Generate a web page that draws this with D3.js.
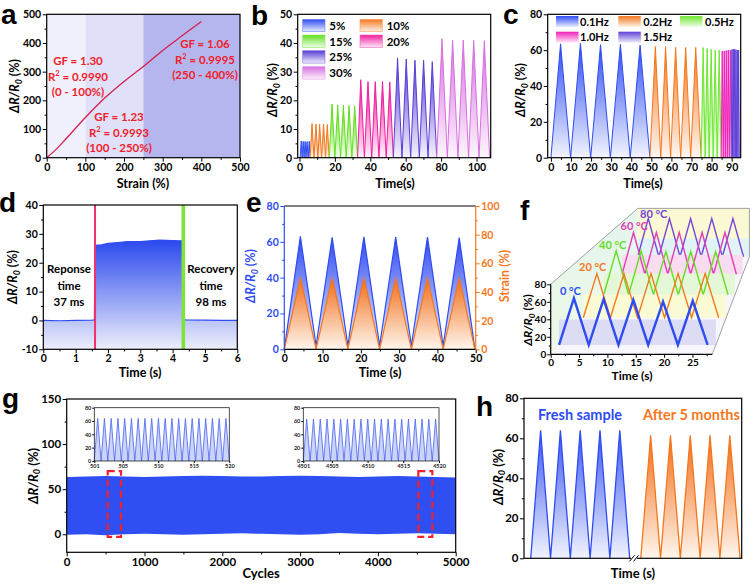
<!DOCTYPE html>
<html lang="en">
<head>
<meta charset="UTF-8">
<title>Strain sensor panels</title>
<script src="https://d3js.org/d3.v7.min.js"></script>
<style>
  body { margin: 0; background: #fff; }
  svg { display: block; }
  text { font-family: Lato, "Open Sans", sans-serif; font-weight: 700; }
</style>
</head>
<body>
<svg width="754" height="585"></svg>
<script>
// ---------------- data ----------------
// a: response vs strain
const aStrain = [0, 25, 50, 100, 150, 200, 250, 300, 350, 400];
const aRes = [0, 30, 66, 140, 208, 266, 318, 374, 425, 475];
const aRanges = [[0, 100], [100, 250], [250, 500]];

// b: different strains
const bLabels = ["5%", "10%", "15%", "20%", "25%", "30%"];
const bTimes = [
  [0.4, 1, 1.5, 2.1, 2.6, 3.2, 3.7, 4.3, 4.9, 5.5, 6.0],
  [6, 7.1, 8.2, 9.3, 10.4, 11.4, 12.5, 13.6, 14.7, 15.7, 16.8],
  [16.8, 18.4, 20, 21.6, 23.2, 24.8, 26.4, 28, 29.6, 31.2, 32.8],
  [32.8, 34.6, 36.7, 38.7, 40.8, 42.8, 44.9, 46.9, 49, 51, 53],
  [53, 55.4, 57.9, 60.3, 62.8, 65.2, 67.7, 70.1, 72.6, 75, 77.5],
  [77.5, 80.5, 83.5, 86.5, 89.5, 92.5, 95.5, 98.4, 101.4, 104.4, 107.4]
];
const bValues = [
  [0, 5.8, 0, 5.7, 0, 5.7, 0, 5.6, 0, 5.7, 0],
  [0, 11.9, 0, 11.7, 0, 11.7, 0, 11.7, 0, 11.6, 0],
  [0, 18.7, 0, 18.4, 0, 18.3, 0, 18.2, 0, 18.1, 0],
  [0, 27.2, 0, 26.5, 0, 26.5, 0, 26.6, 0, 26.4, 0],
  [0, 34.8, 0, 34.4, 0, 34, 0, 34, 0, 33.5, 0],
  [0, 41.5, 0, 41, 0, 41, 0, 40.9, 0, 40.8, 0]
];

// c: different frequencies
const cLabels = ["0.1Hz", "0.2Hz", "0.5Hz", "1.0Hz", "1.5Hz"];
const cTimes = [
  [0, 4.8, 9.8, 14.7, 19.8, 24.7, 29.6, 34.6, 39.5, 44.4, 49.3],
  [49.3, 52, 54.7, 57.1, 59.6, 62.1, 64.6, 67.1, 69.6, 72.1, 74.8],
  [74.8, 75.8, 76.8, 77.8, 78.8, 79.8, 80.8, 81.8, 82.8, 83.8, 84.8],
  [84.8, 85.3, 85.8, 86.3, 86.8, 87.3, 87.8, 88.3, 88.8, 89.3, 89.8],
  [89.8, 90.13, 90.47, 90.8, 91.13, 91.47, 91.8, 92.13, 92.47, 92.8, 93.13, 93.47, 93.8]
];
const cValues = [
  [0, 63.5, 0, 63.8, 0, 63, 0, 63.2, 0, 62.8, 0],
  [0, 62, 0, 62, 0, 61.5, 0, 61.5, 0, 61.5, 0],
  [0, 61.5, 0, 61, 0, 60.5, 0, 60, 0, 60, 0],
  [0, 59.5, 0, 59.5, 0, 59.8, 0, 60, 0, 60, 0],
  [0, 60.3, 0, 60.5, 0, 60.5, 0, 60.3, 0, 60, 0, 60, 0]
];

// d: response / recovery
const dTimes = [0, 0.5, 1, 1.5, 1.58, 1.6, 1.8, 2.0, 2.3, 2.6, 3.0, 3.3, 3.6, 4.0, 4.25, 4.3, 4.34, 4.4, 5, 5.5, 6];
const dValues = [0, -0.1, 0, 0.1, 0.2, 26, 26.2, 26.7, 27, 27.3, 27.3, 27.6, 27.8, 27.7, 27.6, 27.6, 0.4, 0.2, 0.1, 0, 0];
const dMarks = [1.6, 4.33];

// e: response and strain
const eTimes = [0, 4.2, 8.3, 12.5, 16.6, 20.8, 24.9, 29.1, 33.2, 37.4, 41.5, 45.7, 49.8];
const eRes = [0, 63, 2, 62.5, 2, 62.8, 2, 62.7, 2, 62.6, 2, 62.3, 0];
const eStrain = [0, 50, 0, 50, 0, 50, 0, 50, 0, 50, 0, 50, 0];

// f: temperatures
const fLabels = ["0 °C", "20 °C", "40 °C", "60 °C", "80 °C"];
const fTimes = [0, 2.7, 5.4, 8.1, 10.8, 13.5, 16.2, 18.9, 21.6, 24.3, 27];
const fPeaks = [
  [55, 54, 53, 51, 52],
  [57, 57, 57, 57, 57],
  [62, 62, 61, 61, 61],
  [64, 64, 64, 64, 64],
  [63, 63, 63, 63, 63]
];

// g: 5000 cycles
const gCycles = [0, 250, 500, 750, 1000, 1250, 1500, 1750, 2000, 2250, 2500, 2750, 3000, 3250, 3500, 3750, 4000, 4250, 4500, 4750, 5000];
const gUpper = [63.5, 64, 64.5, 64, 63.5, 64, 64.5, 65, 64.5, 64, 64, 64.5, 65, 64.5, 64, 63.5, 64, 64.5, 64, 63.5, 63];
const gLower = [-0.5, 0, -1, 0, 0.5, 0, -0.5, 0, 0.5, 1, 0.5, 0, -0.5, 0, 1.5, 0.5, 0, 0.5, 1, 0.5, 0];
const gInset1Peaks = [64, 64, 64, 64, 64, 64, 64, 64, 64, 64, 64, 64, 64, 64, 64, 64, 64, 64, 64, 64];
const gInset2Peaks = [63, 63, 63, 63, 63, 63, 63, 63, 63, 63, 63, 63, 63, 63, 63, 63, 63, 63, 63, 63];
const gInset1Ticks = [501, 505, 510, 515, 520];
const gInset2Ticks = [4501, 4505, 4510, 4515, 4520];

// h: fresh vs after 5 months
const hFreshT = [3.4, 8.4, 13.4, 18.4, 23.4, 28.4, 33.4, 38.4, 43.4, 48.4, 53.4];
const hFreshV = [0, 64, 0, 64, 0, 64, 0, 64, 0, 64, 0];
const hAgedT = [59, 64, 69, 74, 79, 84, 89, 94, 99, 104, 109.2];
const hAgedV = [0, 61.5, 0, 61.5, 0, 61.5, 0, 61.5, 0, 61.5, 0];

// ---------------- helpers ----------------
const svg = d3.select("svg");
const defs = svg.append("defs");
const BLUE = "#2e4cf2", ORANGE = "#f5781e", GREEN = "#62e01e", MAGENTA = "#f01ea0",
      PURPLE = "#5a3ed6", LILAC = "#d870e2", RED = "#f0202a";

const pale = (c, t) => d3.interpolateRgb(c, "#fff")(t);
let gid = 0;
function grad(top, bottom, y1, y2) {
  const id = "gr" + (gid++);
  const lg = defs.append("linearGradient").attr("id", id).attr("x1", 0).attr("x2", 0);
  if (y1 !== undefined) lg.attr("gradientUnits", "userSpaceOnUse").attr("y1", y1).attr("y2", y2);
  else lg.attr("y1", 0).attr("y2", 1);
  lg.append("stop").attr("offset", 0).attr("stop-color", top);
  lg.append("stop").attr("offset", 1).attr("stop-color", bottom);
  return `url(#${id})`;
}

function mk(b, xd, yd) {
  return {
    b, g: svg.append("g"),
    x: d3.scaleLinear().domain(xd).range([b.L, b.R]),
    y: d3.scaleLinear().domain(yd).range([b.B, b.T])
  };
}

function addAxis(g, axis, tr, color, fs) {
  const a = g.append("g").attr("transform", tr).call(axis).attr("font-size", fs);
  a.select(".domain").remove();
  a.selectAll("line").attr("stroke", color).attr("stroke-width", 1);
  a.selectAll("text").attr("fill", color);
  return a;
}

function ticks(p, o) {
  const fs = o.fs || 10.5, yc = o.yColor || "#000";
  if (o.xt) addAxis(p.g, d3.axisBottom(p.x).tickValues(o.xt).tickSize(4).tickPadding(1.5).tickFormat(String),
    `translate(0,${p.b.B})`, "#000", fs);
  if (o.xm) addAxis(p.g, d3.axisBottom(p.x).tickValues(o.xm).tickSize(2.2).tickFormat(() => ""),
    `translate(0,${p.b.B})`, "#000", fs);
  if (o.yt) addAxis(p.g, d3.axisLeft(p.y).tickValues(o.yt).tickSize(4).tickPadding(1.5).tickFormat(String),
    `translate(${p.b.L},0)`, yc, fs);
  if (o.ym) addAxis(p.g, d3.axisLeft(p.y).tickValues(o.ym).tickSize(2.2).tickFormat(() => ""),
    `translate(${p.b.L},0)`, yc, fs);
}

function frame(p) {
  p.g.append("rect").attr("x", p.b.L).attr("y", p.b.T)
    .attr("width", p.b.R - p.b.L).attr("height", p.b.B - p.b.T)
    .attr("fill", "none").attr("stroke", "#000").attr("stroke-width", 1.2);
}

function xTitle(g, txt, cx, by, fs) {
  g.append("text").attr("x", cx).attr("y", by).attr("text-anchor", "middle")
    .attr("font-size", fs || 12.5).text(txt);
}

function yTitle(g, cx, cy, color, fs) {
  fs = fs || 12.5;
  const t = g.append("text").attr("transform", `translate(${cx},${cy}) rotate(-90)`)
    .attr("text-anchor", "middle").attr("dy", "0.35em").attr("font-size", fs).attr("fill", color || "#000");
  t.append("tspan").attr("font-style", "italic").text("ΔR/R");
  t.append("tspan").attr("font-style", "italic").attr("font-size", fs * 0.7).attr("dy", fs * 0.22).text("0");
  t.append("tspan").attr("dy", -fs * 0.22).text(" (%)");
}

function letter(ch, x, y) {
  svg.append("text").attr("x", x).attr("y", y).attr("font-size", 28)
    .style("font-family", "'Liberation Sans', Arial, sans-serif").style("font-weight", 700).text(ch);
}

function tri(p, ts, vs, color, lw, fill, base) {
  const pts = ts.map((t, i) => [t, vs[i]]);
  const b0 = base === undefined ? 0 : base;
  p.g.append("path")
    .attr("d", d3.area().x(d => p.x(d[0])).y0(p.y(b0)).y1(d => p.y(d[1]))(pts))
    .attr("fill", fill);
  p.g.append("path")
    .attr("d", d3.line().x(d => p.x(d[0])).y(d => p.y(d[1]))(pts))
    .attr("fill", "none").attr("stroke", color).attr("stroke-width", lw);
}

const fadeFill = c => grad(c, pale(c, 0.94));

// ---------------- panel a ----------------
{
  const p = mk({L: 46.7, R: 240, T: 14.3, B: 157.7}, [0, 500], [0, 500]);
  const bandColors = ["#f0f0fc", "#e0e1f8", "#b6b6ee"];
  p.g.selectAll("rect.band").data(aRanges).join("rect")
    .attr("x", d => p.x(d[0])).attr("width", d => p.x(d[1]) - p.x(d[0]))
    .attr("y", p.b.T).attr("height", p.b.B - p.b.T)
    .attr("fill", (d, i) => bandColors[i]);
  p.g.append("path")
    .attr("d", d3.line().curve(d3.curveMonotoneX).x((d, i) => p.x(d)).y((d, i) => p.y(aRes[i]))(aStrain))
    .attr("fill", "none").attr("stroke", "#d41f4e").attr("stroke-width", 1.3);
  frame(p);
  ticks(p, {xt: d3.range(0, 501, 100), xm: d3.range(50, 500, 100), yt: d3.range(0, 501, 100), ym: d3.range(50, 500, 100)});
  const notes = [
    {x: 78, y: 65, gf: "1.30", r2: "0.9990", rng: "(0 - 100%)"},
    {x: 119, y: 121, gf: "1.23", r2: "0.9993", rng: "(100 - 250%)"},
    {x: 205, y: 48, gf: "1.06", r2: "0.9995", rng: "(250 - 400%)"}
  ];
  notes.forEach(n => {
    const t = p.g.append("g").attr("fill", RED).attr("font-size", 11.5).attr("text-anchor", "middle");
    t.append("text").attr("x", n.x).attr("y", n.y).text("GF = " + n.gf);
    const r = t.append("text").attr("x", n.x).attr("y", n.y + 15.5);
    r.append("tspan").text("R");
    r.append("tspan").attr("font-size", 7.5).attr("dy", -4.5).text("2");
    r.append("tspan").attr("dy", 4.5).text(" = " + n.r2);
    t.append("text").attr("x", n.x).attr("y", n.y + 31).text(n.rng);
  });
  xTitle(p.g, "Strain (%)", 143, 188);
  yTitle(p.g, 15, 86);
  letter("a", 1, 24);
}

// ---------------- panel b ----------------
{
  const p = mk({L: 297.7, R: 490.7, T: 14.3, B: 157.7}, [-1, 108], [0, 50]);
  const cols = [BLUE, ORANGE, GREEN, MAGENTA, PURPLE, LILAC];
  bTimes.forEach((ts, i) => tri(p, ts, bValues[i], cols[i], 1, fadeFill(cols[i])));
  frame(p);
  ticks(p, {xt: d3.range(0, 101, 20), xm: d3.range(10, 108, 20), yt: d3.range(0, 51, 10), ym: d3.range(5, 50, 10)});
  const legX = [302.7, 360], txtX = [329.3, 386.7], rowY = [19.3, 35, 50.7, 66.7];
  const order = [[0, 0, 0], [1, 1, 0], [2, 0, 1], [3, 1, 1], [4, 0, 2], [5, 0, 3]];
  order.forEach(([i, c, r]) => {
    p.g.append("rect").attr("x", legX[c]).attr("y", rowY[r]).attr("width", 22.3).attr("height", 12.4)
      .attr("fill", grad(cols[i], pale(cols[i], 0.9))).attr("stroke", pale(cols[i], 0.3)).attr("stroke-width", 0.6);
    p.g.append("text").attr("x", txtX[c]).attr("y", rowY[r] + 10.5).attr("font-size", 11.5).text(bLabels[i]);
  });
  xTitle(p.g, "Time(s)", 395, 188);
  yTitle(p.g, 273, 90);
  letter("b", 251, 24.5);
}

// ---------------- panel c ----------------
{
  const p = mk({L: 547.7, R: 740.7, T: 14.3, B: 157.7}, [-1.6, 94.5], [0, 80]);
  const cols = [BLUE, ORANGE, "#6ee830", "#f020b8", "#6040d8"];
  cTimes.forEach((ts, i) => tri(p, ts, cValues[i], cols[i], 1, fadeFill(cols[i])));
  frame(p);
  ticks(p, {xt: d3.range(0, 91, 10), xm: d3.range(5, 94, 10), yt: d3.range(0, 81, 20), ym: d3.range(10, 80, 20)});
  const sw = [[556, 16], [618.3, 16], [680, 16], [556, 31.7], [618.3, 31.7]];
  const tx = [580, 643.3, 705, 580, 643.3];
  cLabels.forEach((l, i) => {
    p.g.append("rect").attr("x", sw[i][0]).attr("y", sw[i][1]).attr("width", 22.5).attr("height", 11)
      .attr("fill", grad(cols[i], pale(cols[i], 0.9)));
    p.g.append("text").attr("x", tx[i]).attr("y", sw[i][1] + 9.5).attr("font-size", 11).text(l);
  });
  xTitle(p.g, "Time(s)", 643, 188);
  yTitle(p.g, 521, 90);
  letter("c", 503, 24);
}

// ---------------- panel d ----------------
{
  const p = mk({L: 43.3, R: 237.3, T: 205, B: 349.3}, [0, 6], [-10, 40]);
  const pts = dTimes.map((t, i) => [t, dValues[i]]);
  p.g.append("path")
    .attr("d", d3.area().x(d => p.x(d[0])).y0(p.y(-10)).y1(d => p.y(d[1]))(pts))
    .attr("fill", grad("#2a48ee", "#eeeffb", p.y(28), p.y(-10)));
  p.g.append("path")
    .attr("d", d3.line().x(d => p.x(d[0])).y(d => p.y(d[1]))(pts))
    .attr("fill", "none").attr("stroke", BLUE).attr("stroke-width", 1.2);
  p.g.append("line").attr("x1", p.x(dMarks[0])).attr("x2", p.x(dMarks[0]))
    .attr("y1", p.b.T).attr("y2", p.b.B).attr("stroke", "#f2306a").attr("stroke-width", 2);
  p.g.append("line").attr("x1", p.x(dMarks[1])).attr("x2", p.x(dMarks[1]))
    .attr("y1", p.b.T).attr("y2", p.b.B).attr("stroke", "#80e23a").attr("stroke-width", 3.6);
  frame(p);
  ticks(p, {xt: d3.range(0, 7, 1), xm: d3.range(0.5, 6, 1), yt: d3.range(-10, 41, 10), ym: d3.range(-5, 40, 10)});
  const t1 = ["Reponse", "time", "37 ms"], t2 = ["Recovery", "time", "98 ms"];
  [[t1, 69], [t2, 211]].forEach(([lines, cx]) => lines.forEach((s, i) =>
    p.g.append("text").attr("x", cx).attr("y", 273 + i * 16.5).attr("text-anchor", "middle")
      .attr("font-size", 11.5).text(s)));
  xTitle(p.g, "Time (s)", 140, 377);
  yTitle(p.g, 13, 277);
  letter("d", -1, 212);
}

// ---------------- panel e ----------------
{
  const p = mk({L: 284.3, R: 475.7, T: 206, B: 349.3}, [0, 50], [0, 80]);
  const y2 = d3.scaleLinear().domain([0, 100]).range([p.b.B, p.b.T]);
  const resPts = eTimes.map((t, i) => [t, eRes[i]]);
  const strPts = eTimes.map((t, i) => [t, eStrain[i]]);
  p.g.append("path").attr("d", d3.area().x(d => p.x(d[0])).y0(p.y(0)).y1(d => p.y(d[1]))(resPts))
    .attr("fill", grad("#2f48f0", "#f3f4fd", p.y(63), p.y(0)));
  p.g.append("path").attr("d", d3.area().x(d => p.x(d[0])).y0(y2(0)).y1(d => y2(d[1]))(strPts))
    .attr("fill", grad("#f26c18", "#fff6ec", y2(50), y2(0)));
  p.g.append("path").attr("d", d3.line().x(d => p.x(d[0])).y(d => p.y(d[1]))(resPts))
    .attr("fill", "none").attr("stroke", BLUE).attr("stroke-width", 1.2);
  p.g.append("path").attr("d", d3.line().x(d => p.x(d[0])).y(d => y2(d[1]))(strPts))
    .attr("fill", "none").attr("stroke", ORANGE).attr("stroke-width", 1.2);
  const ln = (x1, y1, x2, y2_, c) => p.g.append("line").attr("x1", x1).attr("y1", y1).attr("x2", x2).attr("y2", y2_)
    .attr("stroke", c).attr("stroke-width", 1.2);
  ln(p.b.L, p.b.T, p.b.R, p.b.T, "#000");
  ln(p.b.L, p.b.B, p.b.R, p.b.B, "#000");
  ln(p.b.L, p.b.T, p.b.L, p.b.B, BLUE);
  ln(p.b.R, p.b.T, p.b.R, p.b.B, ORANGE);
  ticks(p, {xt: d3.range(0, 51, 10), xm: d3.range(5, 50, 10), yt: d3.range(0, 81, 20), ym: d3.range(10, 80, 20), yColor: BLUE});
  addAxis(p.g, d3.axisRight(y2).tickValues(d3.range(0, 101, 20)).tickSize(4).tickPadding(1.5).tickFormat(String),
    `translate(${p.b.R},0)`, ORANGE, 10.5);
  addAxis(p.g, d3.axisRight(y2).tickValues(d3.range(10, 100, 20)).tickSize(2.2).tickFormat(() => ""),
    `translate(${p.b.R},0)`, ORANGE, 10.5);
  xTitle(p.g, "Time (s)", 380, 377);
  yTitle(p.g, 251, 276, BLUE);
  p.g.append("text").attr("transform", "translate(505,276) rotate(-90)").attr("text-anchor", "middle")
    .attr("dy", "0.35em").attr("font-size", 12.5).attr("fill", ORANGE).text("Strain (%)");
  letter("e", 246, 212);
}

// ---------------- panel f ----------------
{
  const g = svg.append("g");
  const front = {x: 550.7, y: 354.3, sx: 5.67, sy: 0.875};
  const back = {x: 637.7, y: 256.7, sx: 3.92, sy: 0.604};
  const depth = [0.096, 0.375, 0.61, 0.82, 1];
  const T = 28.5;
  const layer = d => {
    const L = k => front[k] + (back[k] - front[k]) * d;
    return {
      x: d3.scaleLinear().domain([0, T]).range([L("x"), L("x") + T * L("sx")]),
      y: d3.scaleLinear().domain([0, 80]).range([L("y"), L("y") - 80 * L("sy")])
    };
  };
  const F = layer(0), B = layer(1);
  const pt = (s, t, v) => [s.x(t), s.y(v)];
  const poly = (pts, fill) => g.append("polygon").attr("points", pts.map(p => p.join(",")).join(" ")).attr("fill", fill);
  poly([pt(F, 0, 0), pt(F, T, 0), pt(B, T, 0), pt(B, 0, 0)], "#f6f6fc");
  poly([pt(F, 0, 0), pt(F, 0, 80), pt(B, 0, 80), pt(B, 0, 0)], grad("#e3f5ee", "#eef9e6"));
  poly([pt(B, 0, 0), pt(B, 0, 80), pt(B, T, 80), pt(B, T, 0)], "#fbf8d4");
  const cols = [BLUE, ORANGE, "#66dd22", "#e040b4", "#7446d8"];
  const bands = ["#dcdcf5", "#fafad4", "#e4f7d6", "#f9dcf0", "#e0f4f6"];
  for (let k = 4; k >= 0; k--) {
    const s = layer(depth[k]);
    poly([pt(s, 0, 0), pt(s, T, 0), pt(s, T, 30), pt(s, 0, 30)], bands[k]);
    const vs = fTimes.map((t, i) => i % 2 ? fPeaks[k][(i - 1) / 2] : 0);
    g.append("path")
      .attr("d", d3.line().x((d, i) => s.x(d)).y((d, i) => s.y(vs[i]))(fTimes))
      .attr("fill", "none").attr("stroke", cols[k]).attr("stroke-width", k === 0 ? 2.4 : 1.4);
  }
  const edge = (a, b) => g.append("line").attr("x1", a[0]).attr("y1", a[1]).attr("x2", b[0]).attr("y2", b[1])
    .attr("stroke", "#8a8a8a").attr("stroke-width", 0.8);
  edge(pt(F, 0, 80), pt(B, 0, 80));
  edge(pt(B, 0, 80), pt(B, T, 80));
  edge(pt(B, T, 80), pt(B, T, 0));
  edge(pt(F, T, 0), pt(B, T, 0));
  g.append("line").attr("x1", F.x(0)).attr("x2", F.x(T)).attr("y1", F.y(0)).attr("y2", F.y(0)).attr("stroke", "#000").attr("stroke-width", 1.2);
  g.append("line").attr("x1", F.x(0)).attr("x2", F.x(0)).attr("y1", F.y(0)).attr("y2", F.y(80)).attr("stroke", "#000").attr("stroke-width", 1.2);
  addAxis(g, d3.axisBottom(F.x).tickValues(d3.range(0, 26, 5)).tickSize(3.5).tickPadding(1).tickFormat(String), `translate(0,${F.y(0)})`, "#000", 10);
  addAxis(g, d3.axisBottom(F.x).tickValues(d3.range(2.5, 28, 5)).tickSize(2).tickFormat(() => ""), `translate(0,${F.y(0)})`, "#000", 10);
  addAxis(g, d3.axisLeft(F.y).tickValues(d3.range(0, 81, 20)).tickSize(3.5).tickPadding(1).tickFormat(String), `translate(${F.x(0)},0)`, "#000", 10);
  addAxis(g, d3.axisLeft(F.y).tickValues(d3.range(10, 80, 20)).tickSize(2).tickFormat(() => ""), `translate(${F.x(0)},0)`, "#000", 10);
  const lab = [[560, 295], [579, 271], [599, 249], [620.5, 230], [640, 217.5]];
  fLabels.forEach((l, k) => g.append("text").attr("x", lab[k][0]).attr("y", lab[k][1])
    .attr("font-size", 11).attr("fill", cols[k]).text(l));
  xTitle(g, "Time (s)", 632, 380, 12);
  yTitle(g, 528, 320, "#000", 12);
  letter("f", 520, 220);
}

// ---------------- panel g ----------------
{
  const p = mk({L: 66.7, R: 455.7, T: 399, B: 552.3}, [0, 5000], [-20, 150]);
  p.g.append("path")
    .attr("d", d3.area().x(d => p.x(d)).y0((d, i) => p.y(gLower[i])).y1((d, i) => p.y(gUpper[i])).curve(d3.curveLinear)(gCycles))
    .attr("fill", "#2f4ff2");
  const dash = (c0, c1) => p.g.append("rect")
    .attr("x", p.x(c0)).attr("y", p.y(70)).attr("width", p.x(c1) - p.x(c0)).attr("height", p.y(-3) - p.y(70))
    .attr("fill", "none").attr("stroke", "#f2202a").attr("stroke-width", 2.2).attr("stroke-dasharray", "7,4");
  dash(527, 698);
  dash(4520, 4700);
  frame(p);
  ticks(p, {fs: 11.5, xt: d3.range(0, 5001, 1000), xm: d3.range(500, 5000, 1000), yt: [0, 50, 100, 150], ym: [25, 75, 125]});
  const inset = (b, x0, peaks, tickVals) => {
    const q = mk(b, [x0, x0 + 19], [0, 80]);
    q.g.append("rect").attr("x", b.L).attr("y", b.T).attr("width", b.R - b.L).attr("height", b.B - b.T).attr("fill", "#fff");
    const step = 19 / peaks.length;
    const ts = [x0], vs = [0];
    peaks.forEach((v, i) => { ts.push(x0 + (i + 0.5) * step, x0 + (i + 1) * step); vs.push(v, 0); });
    tri(q, ts, vs, "#4863f0", 0.8, "#ccd3f8");
    q.g.append("rect").attr("x", b.L).attr("y", b.T).attr("width", b.R - b.L).attr("height", b.B - b.T)
      .attr("fill", "none").attr("stroke", "#222").attr("stroke-width", 0.8);
    const ax = q.g.append("g").attr("transform", `translate(0,${b.B})`)
      .call(d3.axisBottom(q.x).tickValues(tickVals).tickSize(2).tickPadding(1).tickFormat(String)).attr("font-size", 5.5);
    ax.select(".domain").remove();
    ax.selectAll("text").attr("font-weight", 400).attr("fill", "#222");
    const ay = q.g.append("g").attr("transform", `translate(${b.L},0)`)
      .call(d3.axisLeft(q.y).tickValues([0, 20, 40, 60, 80]).tickSize(2).tickPadding(1).tickFormat(String)).attr("font-size", 5.5);
    ay.select(".domain").remove();
    ay.selectAll("text").attr("font-weight", 400).attr("fill", "#222");
  };
  inset({L: 94.3, R: 229.3, T: 407.7, B: 461}, 501, gInset1Peaks, gInset1Ticks);
  inset({L: 303.3, R: 439, T: 407.7, B: 461}, 4501, gInset2Peaks, gInset2Ticks);
  xTitle(p.g, "Cycles", 261, 578, 13);
  yTitle(p.g, 33, 476, "#000", 13);
  letter("g", 2, 408);
}

// ---------------- panel h ----------------
{
  const p = mk({L: 524, R: 741.7, T: 398.3, B: 558.3}, [0, 110], [0, 80]);
  tri(p, hFreshT, hFreshV, BLUE, 1.3, grad("#3a55f0", "#f1f3fe"));
  tri(p, hAgedT, hAgedV, ORANGE, 1.3, grad("#f26c18", "#fff6ec"));
  frame(p);
  ticks(p, {fs: 11.5, yt: d3.range(0, 81, 20), ym: d3.range(10, 80, 20)});
  const bx = p.x(55.6);
  p.g.append("rect").attr("x", bx - 3).attr("y", p.b.B - 3).attr("width", 6).attr("height", 6).attr("fill", "#fff");
  [-2, 2].forEach(o => p.g.append("line").attr("x1", bx + o - 2.5).attr("y1", p.b.B + 3)
    .attr("x2", bx + o + 2.5).attr("y2", p.b.B - 3).attr("stroke", "#000").attr("stroke-width", 1));
  p.g.append("text").attr("x", 580).attr("y", 420).attr("text-anchor", "middle").attr("font-size", 14.5).attr("fill", BLUE).text("Fresh sample");
  p.g.append("text").attr("x", 691.5).attr("y", 420).attr("text-anchor", "middle").attr("font-size", 14.5).attr("fill", ORANGE).text("After 5 months");
  xTitle(p.g, "Time (s)", 633, 578, 13);
  yTitle(p.g, 498, 477, "#000", 13);
  letter("h", 476, 416);
}
</script>
</body>
</html>
